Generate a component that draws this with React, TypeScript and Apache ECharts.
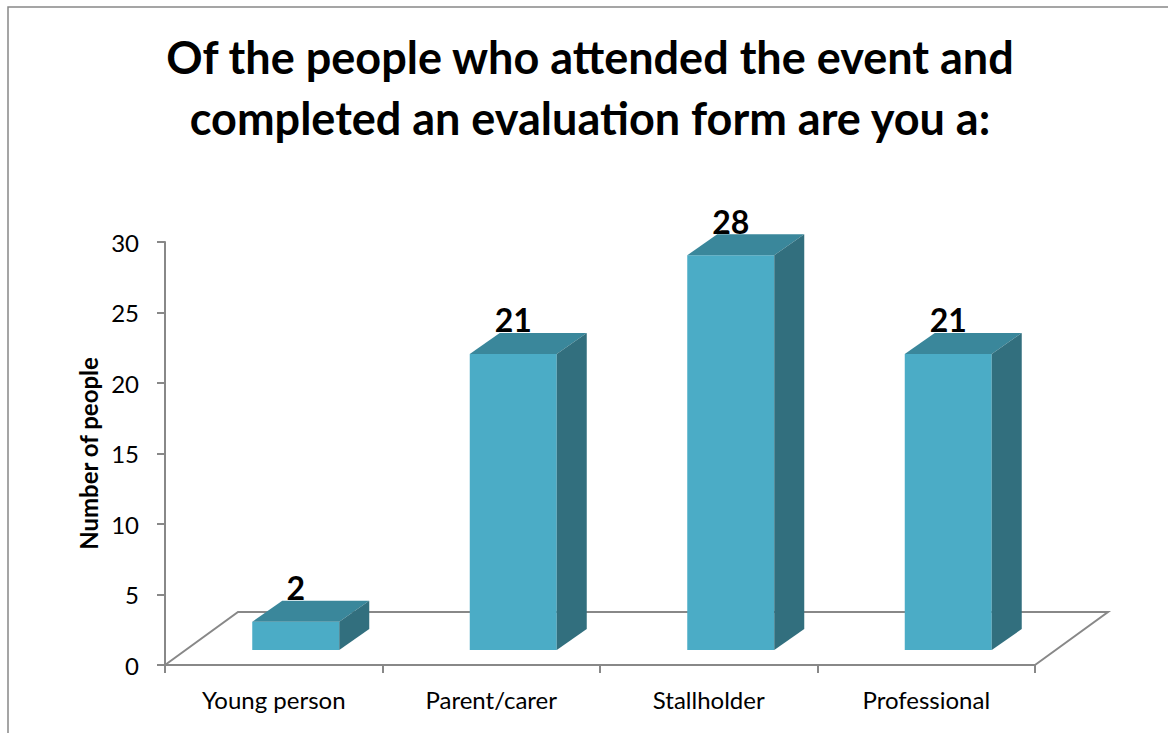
import React, { useEffect, useRef } from "react";
import * as echarts from "echarts";

const titleLines = ["Of the people who attended the event and", "completed an evaluation form are you a:"];
const categories = ["Young person", "Parent/carer", "Stallholder", "Professional"];
const values = [2, 21, 28, 21];
const yAxisName = "Number of people";
const yMin = 0;
const yMax = 30;
const yInterval = 5;

const FONT = "Lato, 'Open Sans', sans-serif";
const FRONT = "#4BACC6";
const TOP = "#3A879B";
const SIDE = "#326F7E";
const AXIS = "#888888";

// 3D offsets (pixels)
const BAR_DX = 22, BAR_DY = -15; // bar front plane offset from floor front edge
const DEPTH_DX = 30, DEPTH_DY = -21; // bar depth
const FLOOR_DX = 73, FLOOR_DY = -53; // floor depth

export default function App() {
  const ref = useRef<HTMLDivElement>(null);
  useEffect(() => {
    if (!ref.current) return;
    const chart = echarts.init(ref.current, null, { renderer: "svg" });
    chart.setOption({
      animation: false,
      backgroundColor: "#ffffff",
      graphic: [
        {
          type: "rect",
          shape: { x: 8, y: 7, width: 1300, height: 900 },
          style: { fill: "none", stroke: AXIS, lineWidth: 1.5 },
          silent: true,
          z: 0,
        },
        ...titleLines.map((t, i) => ({
          type: "text",
          x: 590,
          y: 57 + i * 61,
          style: {
            text: t,
            font: `bold 45px ${FONT}`,
            fill: "#000",
            textAlign: "center",
            textVerticalAlign: "middle",
          },
          z: 10,
        })),
      ],
      grid: { left: 165, top: 242, right: 133, bottom: 68, containLabel: false },
      xAxis: {
        type: "category",
        data: categories,
        boundaryGap: true,
        axisLine: { show: true, lineStyle: { color: AXIS, width: 2 } },
        axisTick: { show: true, length: 8, inside: false, lineStyle: { color: AXIS, width: 2 } },
        axisLabel: { color: "#000", fontSize: 24, fontFamily: FONT, margin: 22 },
        splitLine: { show: false },
      },
      yAxis: {
        type: "value",
        min: yMin,
        max: yMax,
        interval: yInterval,
        name: yAxisName,
        nameLocation: "middle",
        nameGap: 64,
        nameRotate: 90,
        nameTextStyle: { color: "#000", fontSize: 24, fontWeight: "bold", fontFamily: FONT },
        axisLine: { show: true, lineStyle: { color: AXIS, width: 2 } },
        axisTick: { show: true, length: 8, inside: false, lineStyle: { color: AXIS, width: 2 } },
        axisLabel: { color: "#000", fontSize: 24, fontFamily: FONT, margin: 26 },
        splitLine: { show: false },
      },
      series: [
        {
          type: "custom",
          z: 1,
          silent: true,
          data: [[0, 0]],
          renderItem: (params: any) => {
            const cs = params.coordSys;
            const x0 = cs.x, x1 = cs.x + cs.width, y0 = cs.y + cs.height;
            return {
              type: "polyline",
              shape: {
                points: [
                  [x0, y0],
                  [x0 + FLOOR_DX, y0 + FLOOR_DY],
                  [x1 + FLOOR_DX, y0 + FLOOR_DY],
                  [x1, y0],
                ],
              },
              style: { stroke: AXIS, lineWidth: 2, fill: "none" },
            };
          },
        },
        {
          type: "custom",
          z: 2,
          data: values.map((v, i) => [i, v]),
          renderItem: (params: any, api: any) => {
            const i = api.value(0);
            const v = api.value(1);
            const base = api.coord([i, 0]);
            const top = api.coord([i, v]);
            const bw = api.size([1, 0])[0];
            const w = bw * 0.4;
            const cx = base[0] + BAR_DX;
            const xl = cx - w / 2, xr = cx + w / 2;
            const yb = base[1] + BAR_DY, yt = top[1] + BAR_DY;
            return {
              type: "group",
              children: [
                {
                  type: "rect",
                  shape: { x: xl, y: yt, width: w, height: yb - yt },
                  style: { fill: FRONT },
                },
                {
                  type: "polygon",
                  shape: {
                    points: [
                      [xl, yt],
                      [xr, yt],
                      [xr + DEPTH_DX, yt + DEPTH_DY],
                      [xl + DEPTH_DX, yt + DEPTH_DY],
                    ],
                  },
                  style: { fill: TOP },
                },
                {
                  type: "polygon",
                  shape: {
                    points: [
                      [xr, yt],
                      [xr, yb],
                      [xr + DEPTH_DX, yb + DEPTH_DY],
                      [xr + DEPTH_DX, yt + DEPTH_DY],
                    ],
                  },
                  style: { fill: SIDE },
                },
                {
                  type: "text",
                  x: cx,
                  y: yt + DEPTH_DY - 13,
                  style: {
                    text: String(v),
                    font: `bold 32px ${FONT}`,
                    fill: "#000",
                    textAlign: "center",
                    textVerticalAlign: "middle",
                  },
                  z2: 10,
                },
              ],
            };
          },
        },
      ],
    });
    return () => chart.dispose();
  }, []);
  return (
    <div
      ref={ref}
      style={{ position: "absolute", left: 0, top: 0, width: 1168, height: 733 }}
    />
  );
}
